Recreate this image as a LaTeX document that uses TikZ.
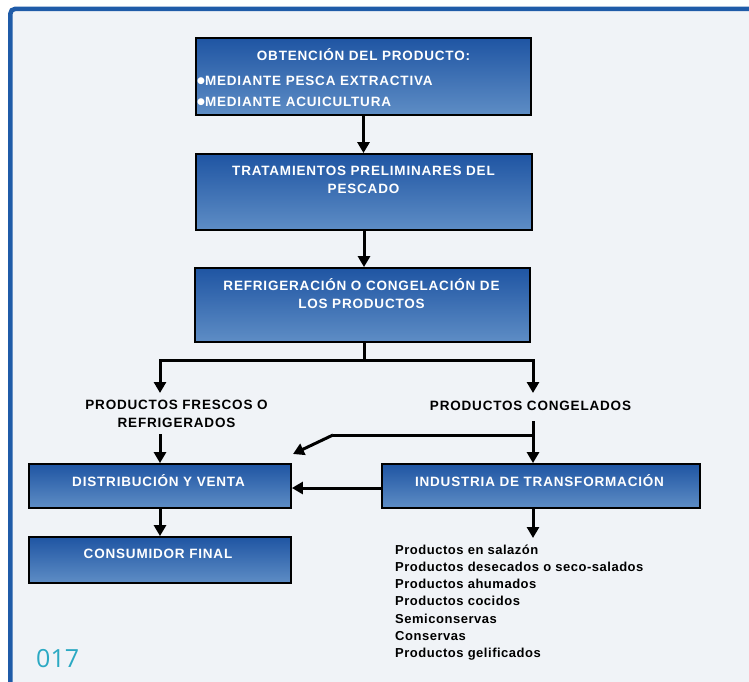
\documentclass[tikz,border=0pt]{standalone}
\usepackage{fontspec}
\setmainfont{Liberation Sans}
\newfontfamily\boxfont{Liberation Sans}[LetterSpace=6]
\newfontfamily\listfont{Liberation Sans}[LetterSpace=4]
\newfontfamily\numfont{Open Sans}
\newfontfamily\symfont{DejaVu Sans}
\usetikzlibrary{arrows.meta}
\definecolor{bgcol}{HTML}{F0F3F7}
\definecolor{framecol}{HTML}{1F5BA8}
\definecolor{boxtop}{HTML}{1F55A3}
\definecolor{boxbot}{HTML}{5E8DC5}
\definecolor{numcol}{HTML}{2BA9C3}
\newcommand{\bul}{\raisebox{2.3pt}{\symfont\fontsize{9}{9}\selectfont ●}}
\begin{document}
\begin{tikzpicture}[x=1pt,y=-1pt,
  box/.style={draw=black, line width=1.8pt, top color=boxtop, bottom color=boxbot, inner sep=0pt},
  btext/.style={text=white, font=\boxfont\bfseries\fontsize{13.5}{18.5}\selectfont, inner sep=0pt, align=center},
  ltext/.style={text=black, font=\boxfont\bfseries\fontsize{13.5}{17.5}\selectfont, inner sep=0pt, align=center},
  listtext/.style={text=black, font=\listfont\bfseries\fontsize{13}{17.2}\selectfont, inner sep=0pt, align=left, anchor=north west},
  ln/.style={line width=3pt},
  arr/.style={line width=3pt, -{Triangle[width=12pt,length=11pt]}}]
\useasboundingbox (0,0) rectangle (749,682);
\fill[white] (0,0) rectangle (749,682);
\draw[framecol, fill=bgcol, line width=4.5pt, rounded corners=5pt] (10.3,8.8) rectangle (770,700);
% boxes
\node[box, minimum width=335pt, minimum height=77pt] (b1) at (363.5,76.5) {};
\node[box, minimum width=336pt, minimum height=76pt] (b2) at (364,192) {};
\node[box, minimum width=335pt, minimum height=74pt] (b3) at (362.5,305) {};
\node[box, minimum width=262pt, minimum height=44pt] (dist) at (160,486) {};
\node[box, minimum width=318pt, minimum height=44pt] (ind) at (541,486) {};
\node[box, minimum width=262pt, minimum height=46pt] (cons) at (160,560) {};
% box texts
\node[btext] (t1) at (363.5,55) {OBTENCIÓN DEL PRODUCTO:};
\node[btext, anchor=west] (t1a) at (197,81) {\bul MEDIANTE PESCA EXTRACTIVA};
\node[btext, anchor=west] (t1b) at (197,102) {\bul MEDIANTE ACUICULTURA};
\node[btext] (t2) at (363.5,180) {TRATAMIENTOS PRELIMINARES DEL\\PESCADO};
\node[btext] (t3) at (361.5,293.5) {REFRIGERACIÓN O CONGELACIÓN DE\\LOS PRODUCTOS};
\node[btext] (tdist) at (158.5,481) {DISTRIBUCIÓN Y VENTA};
\node[btext] (tind) at (539.5,481) {INDUSTRIA DE TRANSFORMACIÓN};
\node[btext] (tcons) at (158,554) {CONSUMIDOR FINAL};
% labels
\node[ltext] (fres) at (176.5,414) {PRODUCTOS FRESCOS O\\REFRIGERADOS};
\node[ltext] (cong) at (530.5,405.5) {PRODUCTOS CONGELADOS};
\node[listtext] (lst) at (395,544.5) {Productos en salazón\\Productos desecados o seco-salados\\Productos ahumados\\Productos cocidos\\Semiconservas\\Conservas\\Productos gelificados};
\node[text=numcol, font=\numfont\fontsize{25}{25}\selectfont, inner sep=0pt, anchor=west] (num) at (36,659) {017};
% connectors
\draw[arr] (b1.south) -- (b1.south |- b2.north);
\draw[arr] (b2.south) -- (b2.south |- b3.north);
\coordinate (j) at (364,360);
\coordinate (jl) at (160,360);
\coordinate (jr) at (533,360);
\coordinate (jle) at (160,393);
\coordinate (jre) at (533,393);
\draw[ln] (b3.south -| j) -- (j);
\draw[ln, line cap=rect] (jl) -- (jr);
\draw[arr] (jl) -- (jle);
\draw[arr] (jr) -- (jre);
\coordinate (fs) at (160,434);
\draw[arr] (fs) -- (fs |- dist.north);
\coordinate (cs) at (533,421);
\draw[arr] (cs) -- (cs |- ind.north);
\coordinate (cb) at (533,435);
\coordinate (bend) at (333,435);
\coordinate (dtip) at (293,454);
\draw[ln] (cb) -- (bend);
\draw[arr] (bend) -- (dtip);
\draw[arr] (ind.west |- 0,488) -- (dist.east |- 0,488);
\draw[arr] (dist.south) -- (dist.south |- cons.north);
\coordinate (is) at (533,508);
\coordinate (ie) at (533,538);
\draw[arr] (is) -- (ie);
\end{tikzpicture}
\end{document}
